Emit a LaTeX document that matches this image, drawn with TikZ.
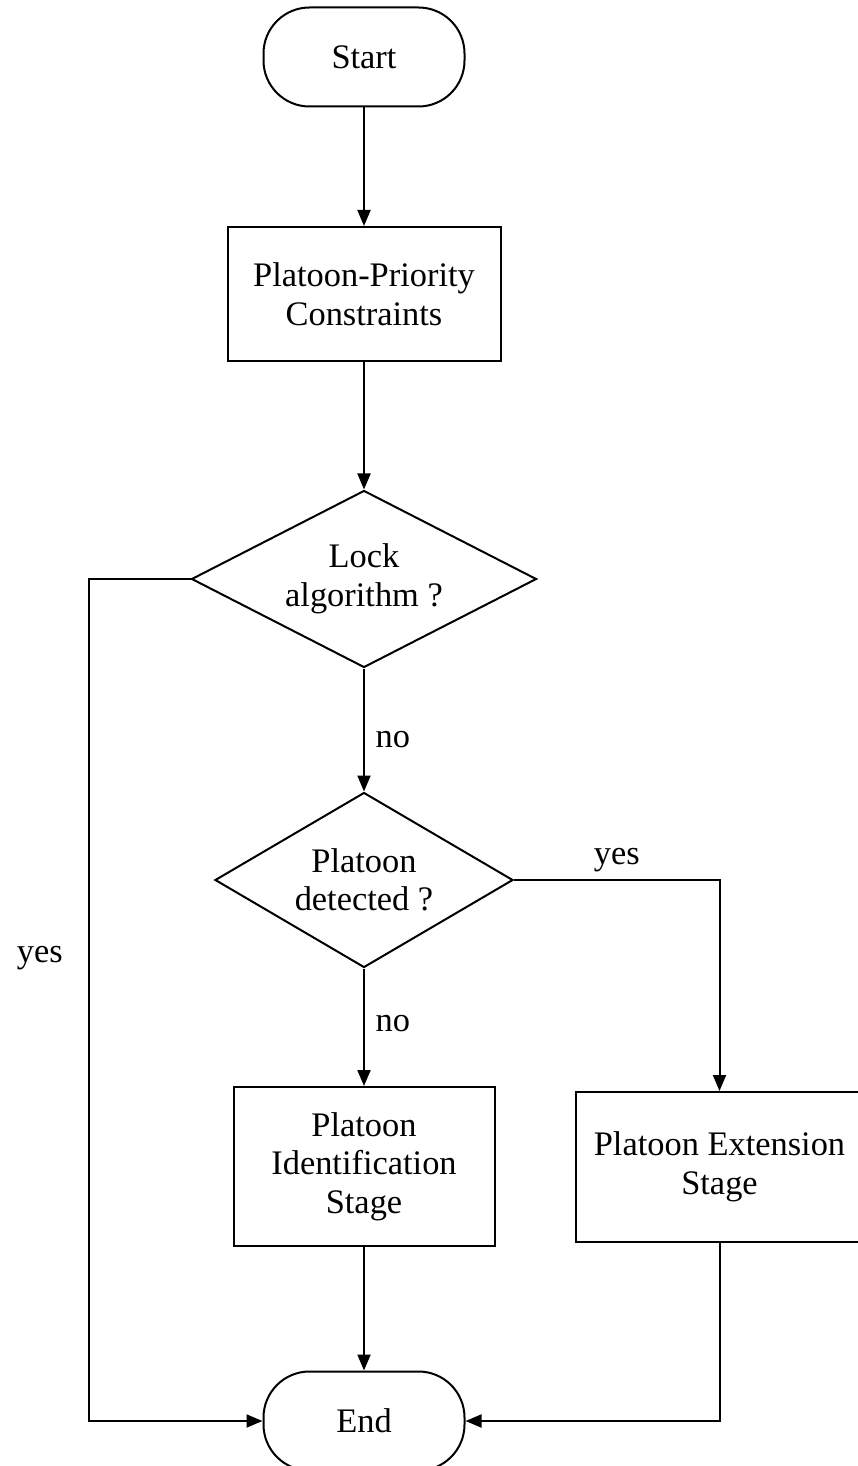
\documentclass[tikz,border=0pt]{standalone}
\usepackage{fontspec}
\setmainfont{Liberation Serif}
\usetikzlibrary{shapes.geometric,arrows.meta}

\begin{document}
\begin{tikzpicture}[x=0.5pt,y=-0.5pt,line width=1pt,
	every node/.style={font=\fontsize{17.2}{19.25}\selectfont},
	term/.style={draw,rectangle,rounded corners=23pt,minimum width=100.5pt,minimum height=49.5pt},
	proc/.style={draw,rectangle,align=center},
	decision/.style={draw,diamond,align=center,inner sep=0pt},
	arrow/.style={-{Triangle[length=8pt,width=6.5pt]}}]
	\useasboundingbox (0,0) rectangle (857,1466);

	%Inicio e fim
	\node[term] (start) at (364,57) {Start};
	\node[term] (end) at (364,1421) {End};

	%Blocos
	\node[proc,minimum width=136.5pt,minimum height=67pt] (prio) at (364,294) {Platoon-Priority\\Constraints};
	\node[proc,minimum width=130.5pt,minimum height=79.5pt] (ident) at (364,1166.5) {Platoon\\Identification\\Stage};
	\node[proc,minimum width=143.5pt,minimum height=75pt] (ext) at (719.5,1167) {Platoon Extension\\Stage};

	%Decisoes
	\node[decision,aspect=1.95,minimum width=172.5pt,minimum height=88.5pt] (lock) at (364,579) {Lock\\algorithm ?};
	\node[decision,aspect=1.7,minimum width=149pt,minimum height=87.5pt] (detect) at (364,880) {Platoon\\detected ?};

	%Setas
	\draw[arrow] (start) -- (prio);
	\draw[arrow] (prio) -- (lock);
	\draw[arrow] (lock) -- node[right=2pt,pos=0.58] {no} (detect);
	\draw[arrow] (detect) -- node[right=2pt,pos=0.47] {no} (ident);
	\draw[arrow] (detect) -| node[above,pos=0.25] {yes} (ext);
	\draw[arrow] (ident) -- (end);
	\draw[arrow] (ext) |- (end);
	\draw[arrow] (lock.west) -- ++(-102,0) |- node[pos=0.225,left=9pt] {yes} (end);
\end{tikzpicture}
\end{document}
